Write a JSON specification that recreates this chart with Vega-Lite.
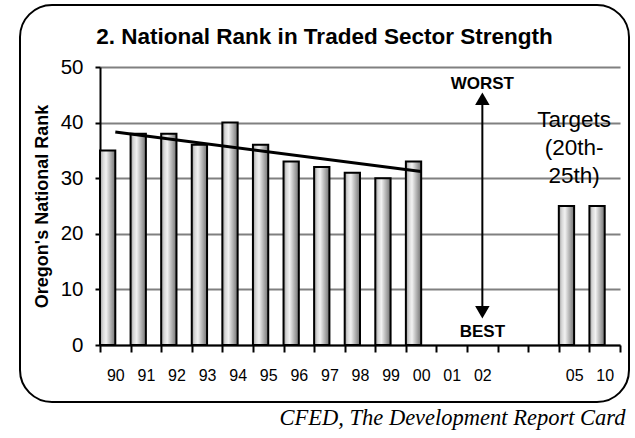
{
  "$schema": "https://vega.github.io/schema/vega-lite/v6.json",
  "width": 609,
  "height": 397,
  "autosize": {"type": "none"},
  "padding": {"left": 20, "top": 5, "right": 6, "bottom": 36},
  "background": "white",
  "config": {
    "view": {"stroke": "black", "strokeWidth": 2, "cornerRadius": 32, "fill": "white"},
    "font": "Liberation Sans"
  },
  "title": {
    "text": "2. National Rank in Traded Sector Strength",
    "font": "Liberation Sans",
    "fontSize": 22.5,
    "fontWeight": "bold",
    "color": "black",
    "anchor": "middle",
    "frame": "group",
    "offset": -43
  },
  "datasets": {
    "ranks": [
      {"year": "90", "rank": 35, "s": "a"},
      {"year": "91", "rank": 38, "s": "a"},
      {"year": "92", "rank": 38, "s": "a"},
      {"year": "93", "rank": 36, "s": "a"},
      {"year": "94", "rank": 40, "s": "a"},
      {"year": "95", "rank": 36, "s": "a"},
      {"year": "96", "rank": 33, "s": "a"},
      {"year": "97", "rank": 32, "s": "a"},
      {"year": "98", "rank": 31, "s": "a"},
      {"year": "99", "rank": 30, "s": "a"},
      {"year": "00", "rank": 33, "s": "a"},
      {"year": "05", "rank": 25, "s": "a"},
      {"year": "10", "rank": 25, "s": "a"}
    ],
    "trend": [
      {"year": "90", "v": 38.3},
      {"year": "00", "v": 31.2}
    ],
    "arrow": [
      {"year": "02", "top": 44.2, "bottom": 6.0}
    ],
    "arrowheads": [
      {"year": "02", "v": 44.3, "shape": "triangle-up"},
      {"year": "02", "v": 5.9, "shape": "triangle-down"}
    ],
    "extremes": [
      {"year": "02", "v": 46.9, "label": "WORST"},
      {"year": "02", "v": 2.3, "label": "BEST"}
    ],
    "targets": [
      {"year": "05", "v": 39.26, "label": "Targets"},
      {"year": "05", "v": 34.17, "label": "(20th-"},
      {"year": "05", "v": 29.08, "label": "25th)"}
    ]
  },
  "layer": [
    {
      "data": {"name": "ranks"},
      "mark": {
        "type": "bar",
        "stroke": "black",
        "strokeWidth": 2,
        "fill": {
          "gradient": "linear",
          "x1": 0, "x2": 1, "y1": 0, "y2": 0,
          "stops": [
            {"offset": 0, "color": "#9a9a9a"},
            {"offset": 0.2, "color": "#d8d8d8"},
            {"offset": 0.4, "color": "#f2f2f2"},
            {"offset": 0.6, "color": "#c6c6c6"},
            {"offset": 0.8, "color": "#9c9c9c"},
            {"offset": 1, "color": "#727272"}
          ]
        }
      },
      "encoding": {
        "x": {
          "field": "year",
          "type": "nominal",
          "sort": null,
          "scale": {
            "domain": ["90", "91", "92", "93", "94", "95", "96", "97", "98", "99", "00", "01", "02", "03", "04", "05", "10"],
            "range": [80, 600],
            "paddingInner": 0,
            "paddingOuter": 0
          },
          "axis": {
            "orient": "bottom",
            "offset": -57,
            "title": "CFED, The Development Report Card",
            "titleFont": "Liberation Serif",
            "titleFontStyle": "italic",
            "titleFontWeight": "normal",
            "titleFontSize": 22.5,
            "titleColor": "black",
            "titleAlign": "right",
            "titleAnchor": "end",
            "titleBaseline": "alphabetic",
            "titleX": 605,
            "titleY": 79,
            "domainColor": "black",
            "domainWidth": 2,
            "tickColor": "black",
            "tickWidth": 2,
            "tickSize": 7,
            "tickBand": "extent",
            "labelAngle": 0,
            "labelFontSize": 16,
            "labelColor": "black",
            "labelPadding": 15,
            "labelExpr": "datum.value == '03' || datum.value == '04' ? '' : datum.label",
            "grid": false
          }
        },
        "xOffset": {
          "field": "s",
          "type": "nominal",
          "scale": {"domain": ["a", "b"], "paddingInner": 0, "paddingOuter": 0}
        },
        "y": {
          "field": "rank",
          "type": "quantitative",
          "scale": {"domain": [0, 50], "range": [340, 62], "nice": false},
          "axis": {
            "title": "Oregon's National Rank",
            "titleFontSize": 18,
            "titleFontWeight": "bold",
            "titleColor": "black",
            "titlePadding": 9,
            "offset": -80,
            "values": [0, 10, 20, 30, 40, 50],
            "domainColor": "black",
            "domainWidth": 2,
            "tickColor": "black",
            "tickWidth": 2,
            "tickSize": 5,
            "labelFontSize": 20.5,
            "labelColor": "black",
            "labelPadding": 12,
            "gridColor": "#808080",
            "gridWidth": 2
          }
        }
      }
    },
    {
      "mark": {"type": "rect", "fill": "white"},
      "encoding": {
        "x": {"datum": "04", "type": "nominal", "bandPosition": 0},
        "x2": {"datum": "10", "bandPosition": 0.8},
        "y": {"datum": 43, "type": "quantitative"},
        "y2": {"datum": 27}
      }
    },
    {
      "data": {"name": "trend"},
      "mark": {"type": "line", "color": "black", "strokeWidth": 3},
      "encoding": {
        "x": {"field": "year", "type": "nominal", "sort": null},
        "y": {"field": "v", "type": "quantitative"}
      }
    },
    {
      "data": {"name": "arrow"},
      "mark": {"type": "rule", "color": "black", "strokeWidth": 2},
      "encoding": {
        "x": {"field": "year", "type": "nominal", "sort": null},
        "y": {"field": "top", "type": "quantitative"},
        "y2": {"field": "bottom"}
      }
    },
    {
      "data": {"name": "arrowheads"},
      "mark": {"type": "point", "filled": true, "color": "black", "size": 210, "opacity": 1},
      "encoding": {
        "x": {"field": "year", "type": "nominal", "sort": null},
        "y": {"field": "v", "type": "quantitative"},
        "shape": {"field": "shape", "type": "nominal", "scale": null, "legend": null}
      }
    },
    {
      "data": {"name": "extremes"},
      "mark": {"type": "text", "fontSize": 17, "fontWeight": "bold", "color": "black", "baseline": "middle", "align": "center"},
      "encoding": {
        "x": {"field": "year", "type": "nominal", "sort": null},
        "y": {"field": "v", "type": "quantitative"},
        "text": {"field": "label"}
      }
    },
    {
      "data": {"name": "targets"},
      "mark": {"type": "text", "fontSize": 22.5, "color": "black", "baseline": "alphabetic", "align": "center"},
      "encoding": {
        "x": {"field": "year", "type": "nominal", "sort": null},
        "y": {"field": "v", "type": "quantitative"},
        "text": {"field": "label"}
      }
    }
  ]
}
